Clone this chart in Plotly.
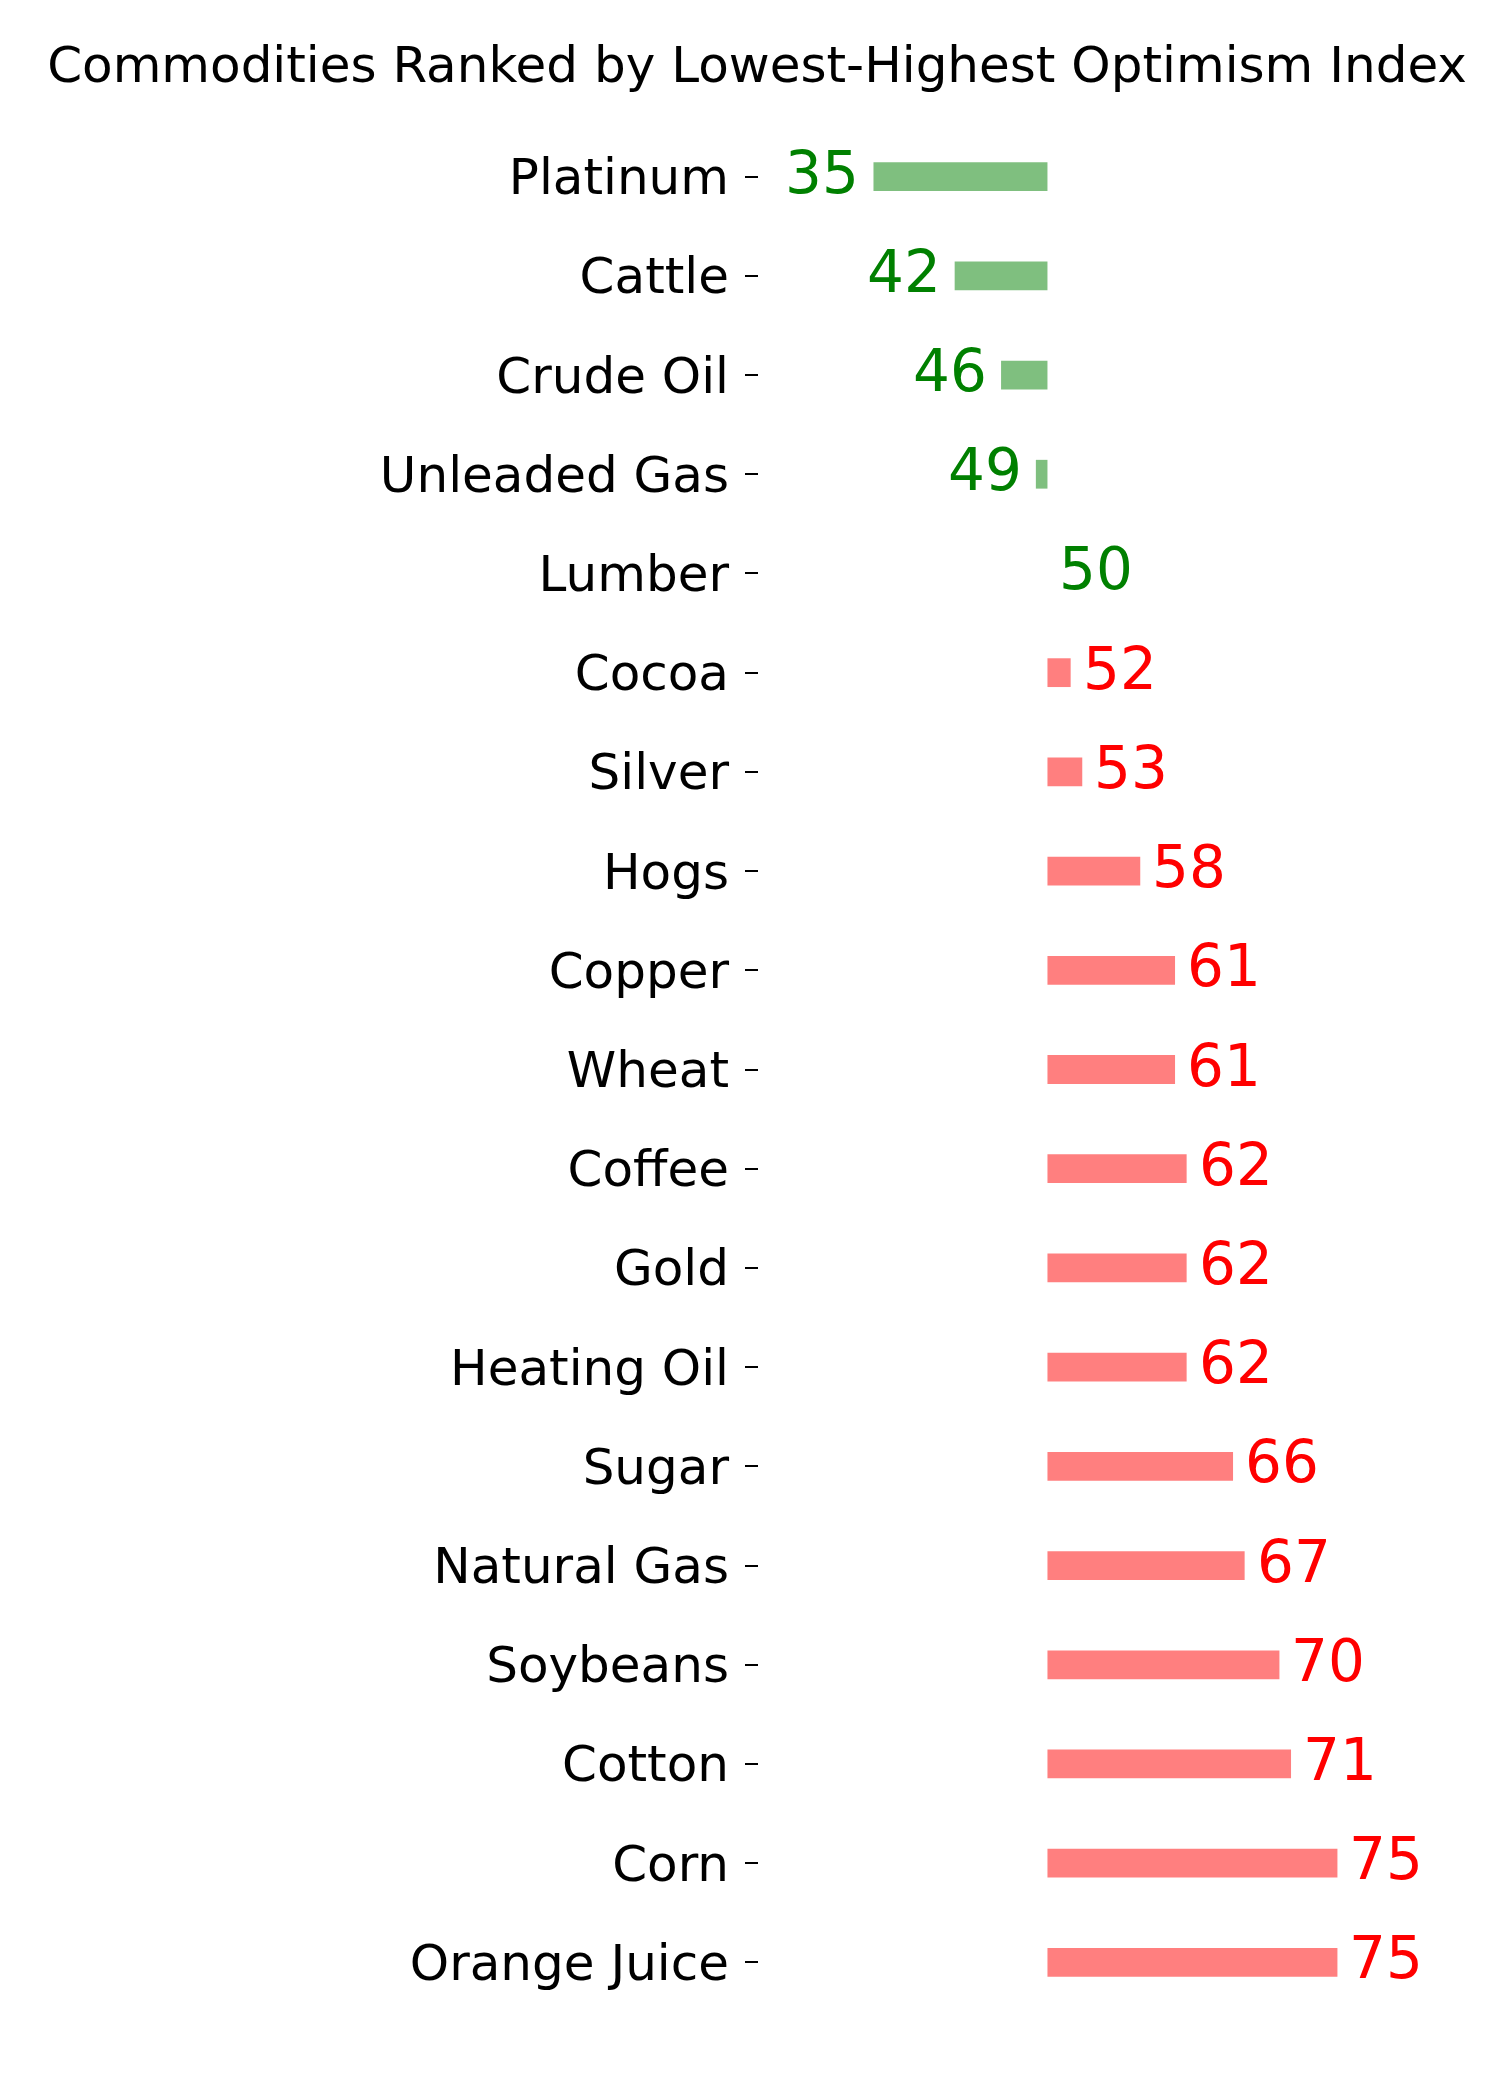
import plotly.graph_objects as go

commodities = ["Platinum", "Cattle", "Crude Oil", "Unleaded Gas", "Lumber", "Cocoa",
               "Silver", "Hogs", "Copper", "Wheat", "Coffee", "Gold", "Heating Oil",
               "Sugar", "Natural Gas", "Soybeans", "Cotton", "Corn", "Orange Juice"]
optimism = [35, 42, 46, 49, 50, 52, 53, 58, 61, 61, 62, 62, 62, 66, 67, 70, 71, 75, 75]
neutral = 50
title_text = "Commodities Ranked by Lowest-Highest Optimism Index"

FONT = "DejaVu Sans"
bar_colors = ["rgba(0,128,0,0.5)" if v <= neutral else "rgba(255,0,0,0.5)" for v in optimism]
text_colors = ["#008000" if v <= neutral else "#ff0000" for v in optimism]

fig = go.Figure()
fig.add_trace(go.Bar(
    y=commodities,
    x=[v - neutral for v in optimism],
    base=neutral,
    orientation="h",
    width=0.29,
    marker=dict(color=bar_colors, line=dict(width=0)),
    hoverinfo="skip",
))

annotations = []
for c, v, col in zip(commodities, optimism, text_colors):
    right = v >= neutral
    annotations.append(dict(
        x=v, y=c, xref="x", yref="y", text=str(v), showarrow=False,
        xanchor="left" if right else "right", yanchor="middle",
        xshift=10 if right else -12, yshift=4,
        font=dict(family=FONT, size=58, color=col),
    ))

fig.update_layout(
    width=1500, height=2100,
    margin=dict(l=759, r=104, t=127, b=88),
    paper_bgcolor="white", plot_bgcolor="white",
    showlegend=False,
    title=dict(text=title_text, x=757 / 1500, xanchor="center",
               y=1 - 64 / 2100, yanchor="middle", yref="container",
               font=dict(family=FONT, size=50, color="black")),
    annotations=annotations,
    xaxis=dict(visible=False, range=[25.13, 80.05], showgrid=False, zeroline=False),
    yaxis=dict(type="category", categoryorder="array", categoryarray=commodities,
               range=[18.5, -0.5], showgrid=False, zeroline=False, showline=False,
               ticks="outside", ticklen=13, tickwidth=2, tickcolor="black",
               ticklabelstandoff=6,
               tickfont=dict(family=FONT, size=50, color="black")),
)

fig.write_html("out.html", config={"displayModeBar": False},
               post_script="document.body.style.margin='0px';")
